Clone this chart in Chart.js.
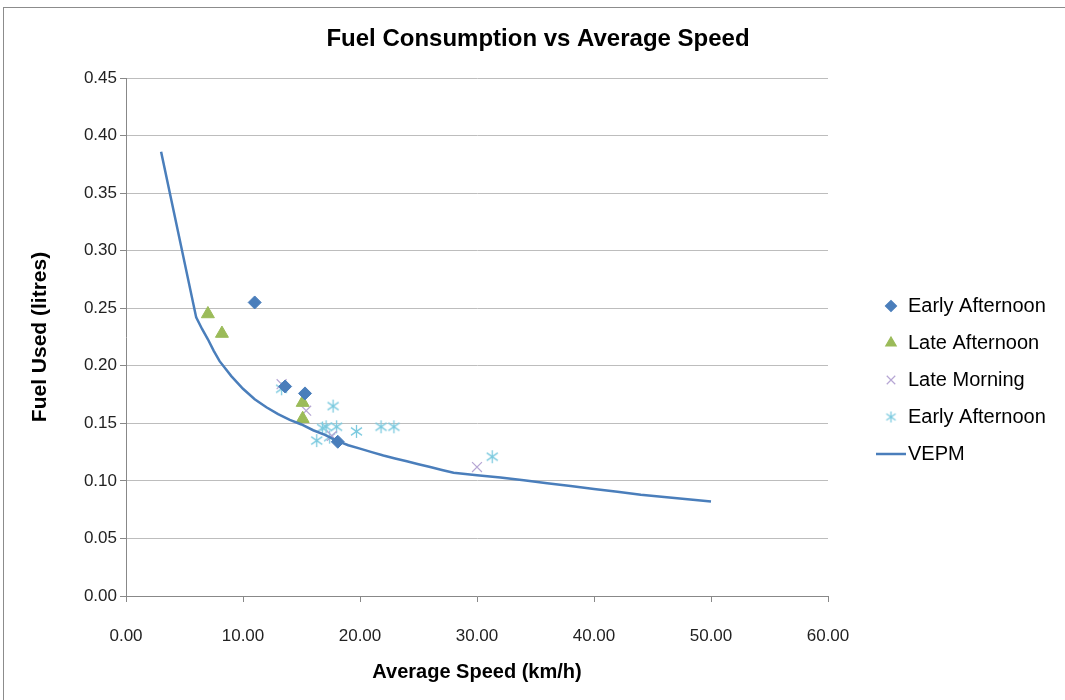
<!DOCTYPE html>
<html>
<head>
<meta charset="utf-8">
<script src="https://cdn.jsdelivr.net/npm/chart.js@4.4.1/dist/chart.umd.min.js"></script>
<style>
  html, body { margin: 0; padding: 0; background: #fff; overflow: hidden; }
  #frame { position: absolute; left: 3px; top: 7px; width: 1100px; height: 720px; border: 1px solid #8c8c8c; }
  #fuelChart { position: absolute; left: 0; top: 0; }
</style>
</head>
<body>
<div id="frame"></div>
<canvas id="fuelChart" width="1065" height="700"></canvas>
<script>
// speeds in km/h, fuel in litres
const earlyAfternoonX = [11.0, 13.6, 15.3, 18.1];
const earlyAfternoonY = [0.255, 0.182, 0.176, 0.134];

const lateAfternoonX = [7.0, 8.2, 15.1, 15.1];
const lateAfternoonY = [0.245, 0.228, 0.168, 0.154];

const lateMorningX = [13.3, 15.4, 17.6, 30.0];
const lateMorningY = [0.184, 0.161, 0.139, 0.112];

const earlyAfternoon2X = [13.3, 16.3, 16.8, 17.1, 17.4, 17.7, 18.0, 19.7, 21.8, 22.9, 31.3];
const earlyAfternoon2Y = [0.180, 0.135, 0.146, 0.147, 0.138, 0.165, 0.147, 0.143, 0.147, 0.147, 0.121];

const vepmX = [3, 6, 6.5, 7, 7.5, 8, 9, 10, 11, 12, 13, 14, 15, 16, 17, 18, 19, 20, 21, 22, 23, 24, 25, 26, 27, 28, 29, 30, 32, 34, 36, 38, 40, 42, 44, 46, 48, 50];
const vepmY = [0.386, 0.242, 0.232, 0.223, 0.213, 0.204, 0.191, 0.180, 0.171, 0.164, 0.158, 0.153, 0.149, 0.144, 0.140, 0.135, 0.131, 0.128, 0.125, 0.122, 0.1195, 0.117, 0.1145, 0.112, 0.1095, 0.107, 0.106, 0.105, 0.103, 0.1005, 0.098, 0.0955, 0.093, 0.0905, 0.088, 0.086, 0.084, 0.082];

const xTicks = [0, 10, 20, 30, 40, 50, 60];
const yTicks = [0, 0.05, 0.10, 0.15, 0.20, 0.25, 0.30, 0.35, 0.40, 0.45];

const FONT = "'Liberation Sans', Arial, sans-serif";

function toPoints(xs, ys) {
  return xs.map((x, i) => ({ x: x, y: ys[i] }));
}

// Excel style asterisk: an X with a vertical bar through it
function makeAsterisk(color, size) {
  const c = document.createElement('canvas');
  c.width = size;
  c.height = size;
  const g = c.getContext('2d');
  const m = size / 2;
  const r = size / 2 - 1;
  g.strokeStyle = color;
  g.lineWidth = 1.3;
  g.beginPath();
  g.moveTo(m, m - r); g.lineTo(m, m + r);
  g.moveTo(m - r * 0.85, m - r * 0.6); g.lineTo(m + r * 0.85, m + r * 0.6);
  g.moveTo(m - r * 0.85, m + r * 0.6); g.lineTo(m + r * 0.85, m - r * 0.6);
  g.stroke();
  return c;
}

const asteriskColor = '#7CCADF';
const asteriskBig = makeAsterisk(asteriskColor, 15);
const asteriskSmall = makeAsterisk(asteriskColor, 13);

const seriesList = [
  { label: 'Early Afternoon', x: earlyAfternoonX, y: earlyAfternoonY, color: '#4A7EBB', style: 'rectRot', radius: 6.5, legendRadius: 5.5 },
  { label: 'Late Afternoon', x: lateAfternoonX, y: lateAfternoonY, color: '#9BBB59', style: 'triangle', radius: 7.5, legendRadius: 6 },
  { label: 'Late Morning', x: lateMorningX, y: lateMorningY, color: '#B6A6D4', style: 'crossRot', radius: 7, legendRadius: 6 },
  { label: 'Early Afternoon', x: earlyAfternoon2X, y: earlyAfternoon2Y, color: asteriskColor, style: asteriskBig, radius: 7, legendStyle: asteriskSmall, legendRadius: 6 }
];

const datasets = seriesList.map(s => ({
  label: s.label,
  data: toPoints(s.x, s.y),
  pointStyle: s.style,
  pointRadius: s.radius,
  pointBackgroundColor: s.color,
  pointBorderColor: s.color,
  pointBorderWidth: s.style === 'crossRot' ? 1.2 : 1,
  showLine: false
}));

datasets.unshift({
  label: 'VEPM',
  data: toPoints(vepmX, vepmY),
  showLine: true,
  borderColor: '#4A7EBB',
  borderWidth: 2.5,
  pointRadius: 0,
  tension: 0,
  fill: false
});

// title + legend drawn by hand so the plot area can be pinned
const decorations = {
  id: 'decorations',
  afterDraw(chart) {
    const ctx = chart.ctx;
    ctx.save();
    ctx.fillStyle = '#000';
    ctx.font = 'bold 24px ' + FONT;
    ctx.textAlign = 'center';
    ctx.textBaseline = 'middle';
    ctx.fillText('Fuel Consumption vs Average Speed', 538, 39);

    ctx.font = '20px ' + FONT;
    ctx.textAlign = 'left';
    let rowY = 306;
    seriesList.forEach(s => {
      ctx.fillStyle = s.color;
      ctx.strokeStyle = s.color;
      ctx.lineWidth = 1.2;
      Chart.helpers.drawPoint(ctx, { pointStyle: s.legendStyle || s.style, radius: s.legendRadius, rotation: 0, borderWidth: 1.2 }, 891, rowY);
      ctx.fillStyle = '#000';
      ctx.fillText(s.label, 908, rowY);
      rowY += 37;
    });
    ctx.strokeStyle = '#4A7EBB';
    ctx.lineWidth = 2.5;
    ctx.beginPath();
    ctx.moveTo(876, rowY);
    ctx.lineTo(906, rowY);
    ctx.stroke();
    ctx.fillStyle = '#000';
    ctx.fillText('VEPM', 908, rowY);
    ctx.restore();
  }
};

new Chart(document.getElementById('fuelChart').getContext('2d'), {
  type: 'scatter',
  data: { datasets: datasets },
  options: {
    responsive: false,
    animation: false,
    layout: { padding: { top: 78, right: 237, bottom: 0, left: 0 } },
    plugins: {
      legend: { display: false },
      title: { display: false },
      tooltip: { enabled: false }
    },
    scales: {
      x: {
        type: 'linear',
        min: 0,
        max: 60,
        afterFit: scale => { scale.height = 104; },
        afterBuildTicks: scale => { scale.ticks = xTicks.map(v => ({ value: v })); },
        ticks: {
          padding: 24,
          color: '#222',
          font: { family: FONT, size: 17 },
          callback: v => v.toFixed(2)
        },
        grid: { drawOnChartArea: false, drawTicks: true, tickLength: 6, tickColor: '#888' },
        border: { display: true, color: '#888' },
        title: {
          display: true,
          text: 'Average Speed (km/h)',
          color: '#000',
          font: { family: FONT, size: 20, weight: 'bold' },
          padding: { top: 0, bottom: 16 }
        }
      },
      y: {
        type: 'linear',
        min: 0,
        max: 0.45,
        afterFit: scale => { scale.width = 126; },
        afterBuildTicks: scale => { scale.ticks = yTicks.map(v => ({ value: v })); },
        ticks: {
          padding: 3,
          color: '#222',
          font: { family: FONT, size: 17 },
          callback: v => v.toFixed(2)
        },
        grid: { color: '#BDBDBD', lineWidth: 1, drawTicks: true, tickLength: 6, tickColor: '#888' },
        border: { display: true, color: '#888' },
        title: {
          display: true,
          text: 'Fuel Used (litres)',
          color: '#000',
          font: { family: FONT, size: 21, weight: 'bold' },
          padding: { top: 28, bottom: 0 }
        }
      }
    }
  },
  plugins: [decorations]
});
</script>
</body>
</html>
